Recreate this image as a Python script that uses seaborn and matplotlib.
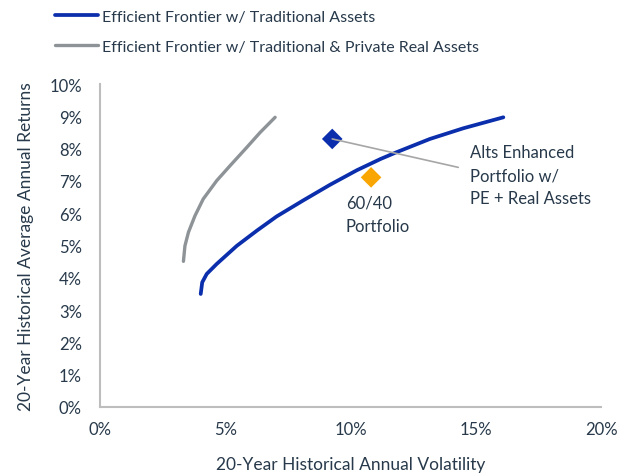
import matplotlib
matplotlib.use("Agg")
import matplotlib.pyplot as plt
import seaborn as sns
from matplotlib.ticker import FuncFormatter

# Efficient frontier (volatility %, return %)
trad_vol = [4.02, 4.08, 4.26, 4.66, 5.46, 6.26, 7.05, 8.12, 9.18, 10.25, 11.2, 11.84, 13.17, 14.50, 16.10]
trad_ret = [3.50, 3.86, 4.12, 4.43, 4.99, 5.46, 5.90, 6.40, 6.88, 7.33, 7.68, 7.89, 8.30, 8.63, 8.97]

priv_vol = [3.33, 3.39, 3.53, 3.79, 4.12, 4.66, 5.19, 5.86, 6.39, 6.99]
priv_ret = [4.51, 4.99, 5.41, 5.92, 6.44, 7.01, 7.47, 8.04, 8.50, 8.97]

# Portfolios
alts_point = (9.27, 8.30)
sixty_forty = (10.82, 7.11)
callout_end = (14.3, 7.42)

x_ticks = [0, 5, 10, 15, 20]
y_ticks = list(range(0, 11))

BLUE = "#0b2fac"
GRAY = "#8d9397"
ORANGE = "#f9a602"
TEXT = "#27394a"

sns.set_theme(style="white")
plt.rcParams["font.family"] = ["Lato", "DejaVu Sans"]
plt.rcParams["text.color"] = TEXT

fig = plt.figure(figsize=(6.33, 4.77), dpi=100)
ax = fig.add_axes([0.158, 0.1447, 0.7915, 0.677])

sns.lineplot(x=trad_vol, y=trad_ret, sort=False, estimator=None, color=BLUE,
             linewidth=2.7, ax=ax, label="Efficient Frontier w/ Traditional Assets",
             solid_capstyle="round", solid_joinstyle="round")
sns.lineplot(x=priv_vol, y=priv_ret, sort=False, estimator=None, color=GRAY,
             linewidth=2.4, ax=ax,
             label="Efficient Frontier w/ Traditional & Private Real Assets",
             solid_capstyle="round", solid_joinstyle="round")

sns.scatterplot(x=[alts_point[0]], y=[alts_point[1]], marker="D", s=110,
                color=BLUE, edgecolor="none", ax=ax, zorder=4)
sns.scatterplot(x=[sixty_forty[0]], y=[sixty_forty[1]], marker="D", s=110,
                color=ORANGE, edgecolor="none", ax=ax, zorder=4)
ax.plot([alts_point[0], callout_end[0]], [alts_point[1], callout_end[1]],
        color="#a6a6a6", linewidth=1.2, zorder=5)

ax.text(14.77, 7.18, "Alts Enhanced\nPortfolio w/\nPE + Real Assets", fontsize=12,
        color=TEXT, va="center", ha="left", linespacing=1.55)
ax.text(9.81, 5.96, "60/40\nPortfolio", fontsize=12, color=TEXT,
        va="center", ha="left", linespacing=1.55)

ax.set_xlim(0, 20)
ax.set_ylim(0, 10)
ax.set_xticks(x_ticks)
ax.set_yticks(y_ticks)
ax.xaxis.set_major_formatter(FuncFormatter(lambda v, _: f"{v:.0f}%"))
ax.yaxis.set_major_formatter(FuncFormatter(lambda v, _: f"{v:.0f}%"))
ax.tick_params(axis="both", length=0, labelsize=12, labelcolor=TEXT)
ax.tick_params(axis="y", pad=13)
ax.tick_params(axis="x", pad=10)

for side in ["top", "right"]:
    ax.spines[side].set_visible(False)
for side in ["left", "bottom"]:
    ax.spines[side].set_color("#bdbdbd")
    ax.spines[side].set_linewidth(1.5)

ax.set_xlabel("20-Year Historical Annual Volatility", fontsize=12.5, color=TEXT, labelpad=14)
ax.set_ylabel("20-Year Historical Average Annual Returns", fontsize=12.5, color=TEXT, labelpad=11)

ax.legend(loc="upper left", bbox_to_anchor=(0.087, 0.978), bbox_transform=fig.transFigure,
          frameon=False, fontsize=11.5, handlelength=2.7, handletextpad=0.25,
          labelspacing=1.0, borderpad=0, borderaxespad=0)

fig.savefig("out.png", dpi=100)
